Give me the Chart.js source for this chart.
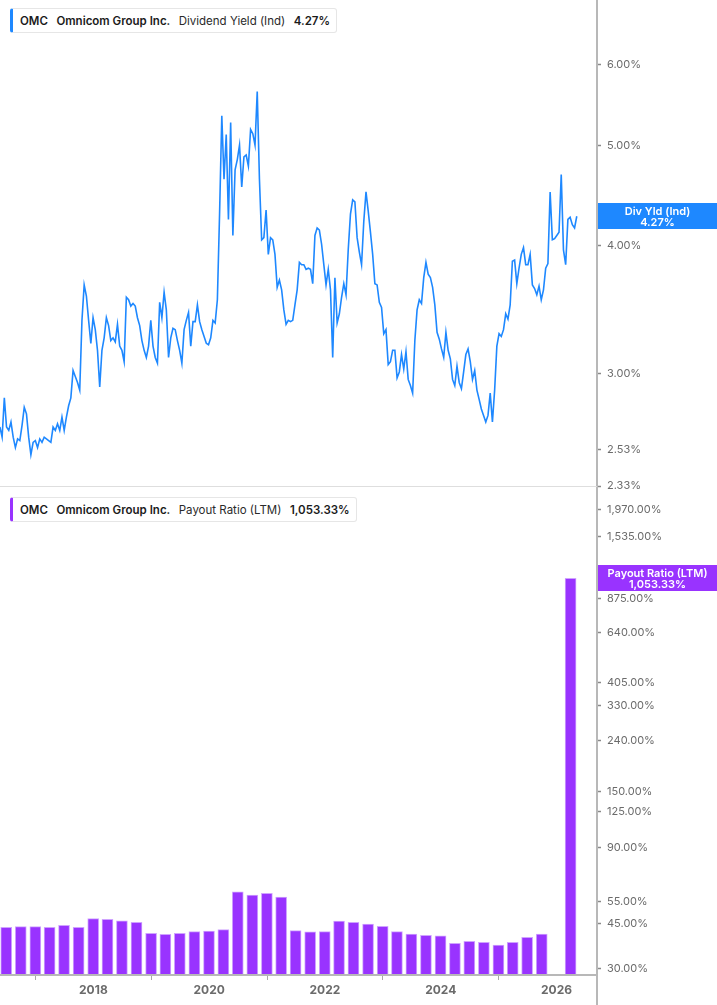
<!DOCTYPE html>
<html>
<head>
<meta charset="utf-8">
<script src="https://cdn.jsdelivr.net/npm/chart.js@4.4.1/dist/chart.umd.min.js"></script>
<style>
html,body{margin:0;padding:0;background:#fff;width:717px;height:1005px;overflow:hidden;font-family:Inter,"Noto Sans",sans-serif}
#topWrap{position:absolute;left:0;top:0;width:717px;height:500px}
#botWrap{position:absolute;left:0;top:488px;width:717px;height:517px}
.vline{position:absolute;left:596px;top:0;width:2px;height:1005px;background:#b8b8b8}
.sep{position:absolute;left:0;top:486px;width:597px;height:1px;background:#dedede}
.xl{position:absolute;left:0;top:974px;width:597px;height:2px;background:#b8b8b8}
.lg{position:absolute;box-sizing:border-box;height:25px;border:1px solid #e6e6e6;border-left:3px solid;border-radius:3px;background:#fff;display:flex;align-items:center;padding-left:7px;font-size:11.5px;color:#1b1b1b;white-space:nowrap}
.lg b{font-weight:600;margin-right:8.5px}
.lg span{font-weight:400;color:#2a2a2a;margin-right:8.5px}
</style>
</head>
<body>
<div id="topWrap"><canvas id="topChart" width="717" height="500"></canvas></div>
<div id="botWrap"><canvas id="botChart" width="717" height="517"></canvas></div>
<div class="vline"></div>
<div class="sep"></div>
<div class="xl"></div>
<div class="lg" style="left:10px;top:8px;width:327px;border-left-color:#1e88ff"><b>OMC</b><b>Omnicom Group Inc.</b><span>Dividend Yield (Ind)</span><b>4.27%</b></div>
<div class="lg" style="left:10px;top:497px;width:347px;border-left-color:#9933ff"><b>OMC</b><b>Omnicom Group Inc.</b><span>Payout Ratio (LTM)</span><b>1,053.33%</b></div>
<script>
// ---- Data ----
const yieldStart = '2016-05-21';   // first observation, one value every 14 days
const yieldStepDays = 14;
const yieldValues = [
2.66,2.60,2.84,2.66,2.64,2.69,2.60,2.54,2.59,2.58,
2.67,2.78,2.74,2.60,2.50,2.57,2.58,2.54,2.59,2.57,
2.60,2.59,2.58,2.57,2.66,2.64,2.68,2.64,2.72,2.64,
2.72,2.79,2.84,3.02,2.98,2.94,2.89,3.38,3.66,3.57,
3.38,3.21,3.40,3.31,3.16,2.91,3.16,3.25,3.40,3.34,
3.23,3.25,3.22,3.35,3.19,3.16,3.08,3.56,3.54,3.49,
3.51,3.49,3.40,3.34,3.23,3.16,3.11,3.19,3.38,3.19,
3.11,3.07,3.52,3.40,3.60,3.46,3.11,3.25,3.32,3.31,
3.23,3.16,3.07,3.31,3.38,3.44,3.19,3.37,3.37,3.50,
3.37,3.31,3.26,3.21,3.20,3.25,3.38,3.36,3.54,4.30,
5.35,4.64,5.13,4.24,5.27,4.09,4.74,4.85,5.01,4.56,
4.88,4.90,4.78,5.19,5.14,5.01,5.65,4.64,4.05,4.07,
4.33,3.92,4.07,4.05,3.92,3.64,3.70,3.62,3.46,3.35,
3.38,3.37,3.38,3.50,3.62,3.85,3.83,3.83,3.79,3.80,
3.79,3.67,4.09,4.16,4.14,4.01,3.83,3.66,3.79,3.62,
3.11,3.72,3.36,3.43,3.56,3.67,3.58,3.96,4.29,4.43,
4.41,4.07,3.94,3.83,4.22,4.51,4.32,4.12,3.92,3.67,
3.66,3.52,3.48,3.28,3.31,3.06,3.08,3.16,3.16,2.97,
3.01,3.13,3.03,3.15,2.96,2.92,2.87,3.23,3.46,3.54,
3.51,3.72,3.85,3.75,3.72,3.64,3.50,3.29,3.24,3.17,
3.11,3.29,3.16,3.10,2.96,2.92,3.05,2.94,2.90,3.01,
3.13,3.17,3.08,2.96,3.02,2.89,2.83,2.77,2.73,2.69,
2.73,2.87,2.69,2.89,3.19,3.28,3.26,3.31,3.43,3.39,
3.50,3.86,3.87,3.67,3.80,3.92,3.98,3.83,3.83,3.92,
3.66,3.63,3.58,3.65,3.54,3.62,3.80,3.84,4.51,4.05,
4.06,4.09,4.12,4.69,3.96,3.83,4.24,4.26,4.19,4.16,
4.27
];
const yieldTicks = [2.33, 2.53, 3.00, 4.00, 5.00, 6.00];

const payoutDates = [
'2016-06-30','2016-09-30','2016-12-31','2017-03-31','2017-06-30','2017-09-30','2017-12-31',
'2018-03-31','2018-06-30','2018-09-30','2018-12-31','2019-03-31','2019-06-30','2019-09-30','2019-12-31',
'2020-03-31','2020-06-30','2020-09-30','2020-12-31','2021-03-31','2021-06-30','2021-09-30','2021-12-31',
'2022-03-31','2022-06-30','2022-09-30','2022-12-31','2023-03-31','2023-06-30','2023-09-30','2023-12-31',
'2024-03-31','2024-06-30','2024-09-30','2024-12-31','2025-03-31','2025-06-30','2025-09-30','2025-12-31',
'2026-03-31'
];
const payoutValues = [
43.6,43.9,43.9,43.6,44.4,43.6,47.2,
46.9,46.3,45.6,41.3,40.9,41.3,41.9,42.1,
42.7,60.2,58.5,59.5,57.5,42.3,41.8,41.9,
46.2,45.6,44.9,44.0,41.9,41.0,40.5,40.3,
37.7,38.4,38.0,37.1,38.0,39.8,41.0,null,
1053.33
];
const payoutTicks = [30, 45, 55, 90, 125, 150, 240, 330, 405, 640, 875, 1535, 1970];
const xTickYears = [2018, 2020, 2022, 2024, 2026];

// ---- helpers ----
function msToYear(ms){
  const d = new Date(ms); const y = d.getUTCFullYear();
  const s = Date.UTC(y,0,1), e = Date.UTC(y+1,0,1);
  return y + (ms - s) / (e - s);
}
function dateToYear(str){ return msToYear(Date.parse(str + 'T00:00:00Z')); }
const X_MIN = 2016.387, X_MAX = 2026.70;

const startMs = Date.parse(yieldStart + 'T00:00:00Z');
const yieldPoints = yieldValues.map((v,i) => ({x: msToYear(startMs + i*yieldStepDays*86400000), y: v}));
const payoutPoints = payoutDates.map((d,i) => ({x: dateToYear(d), y: payoutValues[i]}));

Chart.defaults.font.family = 'Inter, "Noto Sans", sans-serif';

const lastLabel = {
  id: 'lastLabel',
  afterDraw(chart, args, opts){
    const y = chart.scales.y.getPixelForValue(opts.value);
    const x0 = chart.chartArea.right + 1;
    const ctx = chart.ctx;
    ctx.save();
    ctx.fillStyle = opts.color;
    ctx.fillRect(x0, Math.round(y - 13), chart.width - x0, 26);
    ctx.fillStyle = '#fff';
    ctx.font = '600 11px Inter, "Noto Sans", sans-serif';
    ctx.textAlign = 'center';
    ctx.textBaseline = 'middle';
    const cx = (x0 + chart.width) / 2;
    ctx.fillText(opts.title, cx, y - 5);
    ctx.fillText(opts.valueText, cx, y + 6);
    ctx.restore();
  }
};

function yAxis(ticksArr, min, max, fmt){
  return {
    type: 'logarithmic', position: 'right', min: min, max: max,
    border: {display: false},
    grid: {display: true, drawOnChartArea: false, drawTicks: true, tickLength: 4, tickColor: '#8a8a8a', tickWidth: 1.5},
    ticks: {padding: 6, color: '#6b6b6b', font: {size: 11}, autoSkip: false, callback: fmt},
    afterBuildTicks: s => { s.ticks = ticksArr.map(v => ({value: v})); },
    afterFit: s => { s.width = 120; s.paddingTop = 0; s.paddingBottom = 0; }
  };
}

new Chart(document.getElementById('topChart'), {
  type: 'line',
  data: { datasets: [{ data: yieldPoints, borderColor: '#1e88ff', borderWidth: 1.6, pointRadius: 0, pointHoverRadius: 0, tension: 0, fill: false }] },
  options: {
    responsive: false, animation: false, devicePixelRatio: 1,
    layout: {autoPadding: false, padding: {left: 0, right: 0, top: 0, bottom: 14}},
    plugins: {legend: {display: false}, tooltip: {enabled: false},
      lastLabel: {value: yieldValues[yieldValues.length-1], color: '#1e88ff', title: 'Div Yld (Ind)', valueText: yieldValues[yieldValues.length-1].toFixed(2) + '%'}},
    scales: {
      x: {type: 'linear', min: X_MIN, max: X_MAX, display: false},
      y: yAxis(yieldTicks, 2.33, 6.94, v => Number(v).toFixed(2) + '%')
    }
  },
  plugins: [lastLabel]
});

const fmtPct = v => Number(v).toLocaleString('en-US', {minimumFractionDigits: 2, maximumFractionDigits: 2}) + '%';
const lastPayout = payoutValues[payoutValues.length-1];

new Chart(document.getElementById('botChart'), {
  type: 'bar',
  data: { datasets: [{ data: payoutPoints, backgroundColor: '#9933ff', borderColor: '#cfa3ff', borderWidth: {top: 1, left: 1, right: 1, bottom: 0}, borderSkipped: 'start', barThickness: 11 }] },
  options: {
    responsive: false, animation: false, devicePixelRatio: 1,
    layout: {autoPadding: false, padding: 0},
    plugins: {legend: {display: false}, tooltip: {enabled: false},
      lastLabel: {value: lastPayout, color: '#9933ff', title: 'Payout Ratio (LTM)', valueText: fmtPct(lastPayout)}},
    scales: {
      x: {
        type: 'linear', min: X_MIN, max: X_MAX, offset: false, position: 'bottom',
        border: {display: false},
        grid: {display: true, drawOnChartArea: false, drawTicks: true, tickLength: 5, tickColor: '#a8a8a8', tickWidth: 1},
        ticks: {padding: 3, color: '#6b6b6b', font: {size: 12, weight: 'bold'}, autoSkip: false, maxRotation: 0, callback: v => String(v)},
        afterBuildTicks: s => { s.ticks = xTickYears.map(v => ({value: v})); },
        afterFit: s => { s.height = 30; s.paddingLeft = 0; s.paddingRight = 0; }
      },
      y: yAxis(payoutTicks, 28.22, 2399, fmtPct)
    }
  },
  plugins: [lastLabel]
});
</script>
</body>
</html>
